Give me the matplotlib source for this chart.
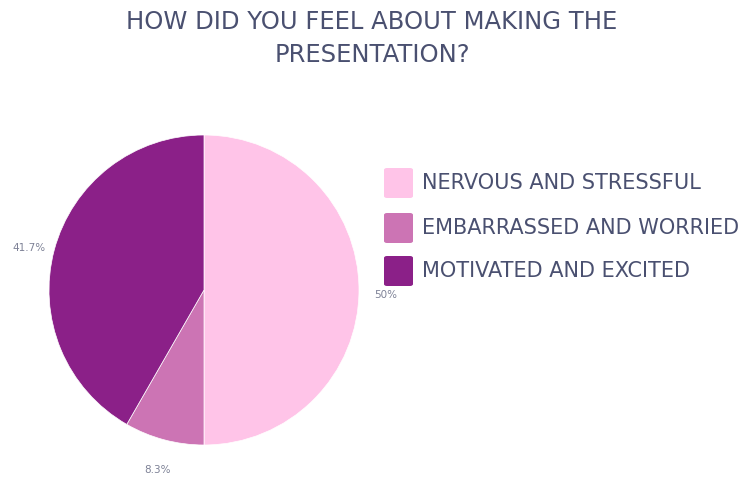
import matplotlib.pyplot as plt
from matplotlib.patches import FancyBboxPatch

labels = ["NERVOUS AND STRESSFUL", "EMBARRASSED AND WORRIED", "MOTIVATED AND EXCITED"]
shares = [50, 8.3, 41.7]
colors = ["#ffc4e8", "#cc74b4", "#8b2088"]

text_color = "#4a5070"
pct_color = "#7d8196"

fig = plt.figure(figsize=(7.44, 4.79), dpi=100)
fig.patch.set_facecolor("white")

W, H = 744, 479
ax = fig.add_axes([49 / W, (H - 445) / H, 310 / W, 310 / H])
wedges, texts = ax.pie(
    shares,
    labels=[f"{v:g}%" for v in shares],
    colors=colors,
    startangle=90,
    counterclock=False,
    labeldistance=1.17,
    wedgeprops=dict(edgecolor="white", linewidth=0.5),
    textprops=dict(color=pct_color, fontsize=7.5),
)
for t in texts:
    t.set_ha("center")
    t.set_va("top")
    t.set_clip_on(False)
ax.set_xlim(-1, 1)
ax.set_ylim(-1, 1)
ax.set_aspect("equal")

fig.text(0.5, 1 - 22 / H, "HOW DID YOU FEEL ABOUT MAKING THE", ha="center", va="center",
         fontsize=17.5, color=text_color)
fig.text(0.5, 1 - 55 / H, "PRESENTATION?", ha="center", va="center",
         fontsize=17.5, color=text_color)

# legend drawn by hand: rounded swatches with labels
rows_y = [183, 228, 271]
for lab, col, y in zip(labels, colors, rows_y):
    sw = FancyBboxPatch((384 / W, 1 - (y + 15) / H), 29 / W, 30 / H,
                        boxstyle="round,pad=0,rounding_size=0.004",
                        transform=fig.transFigure, facecolor=col, edgecolor="none")
    fig.patches.append(sw)
    fig.text(422 / W, 1 - y / H, lab, ha="left", va="center", fontsize=15, color=text_color)

fig.savefig("out.png", dpi=100, facecolor="white")
